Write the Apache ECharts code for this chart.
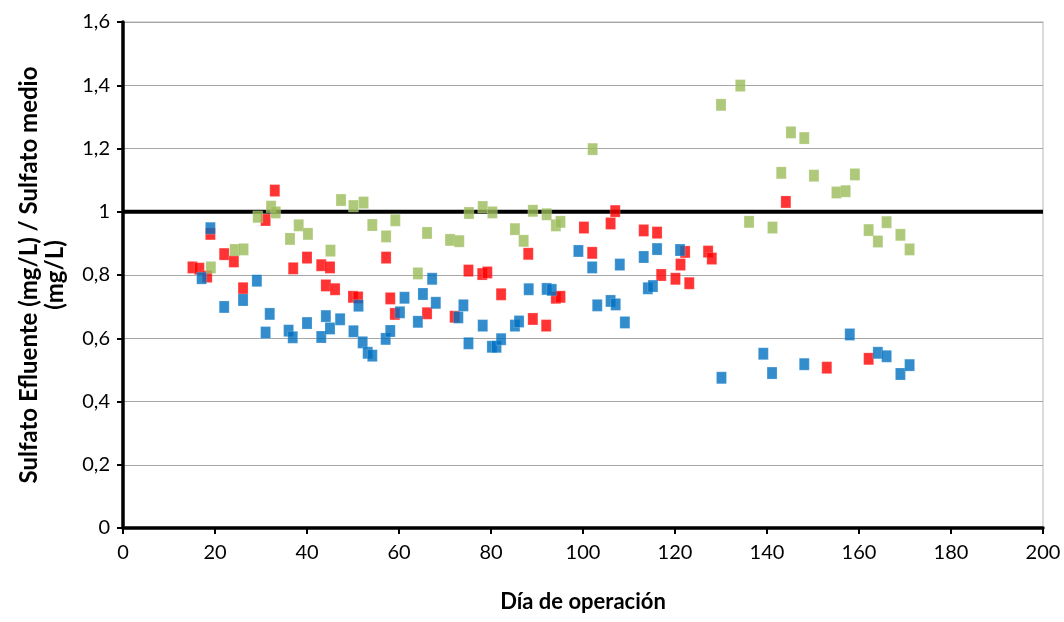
<!DOCTYPE html>
<html>
<head>
<meta charset="utf-8">
<script src="https://cdn.jsdelivr.net/npm/echarts@6/dist/echarts.min.js"></script>
<style>
  html, body { margin: 0; padding: 0; background: #fff; }
  #chart { width: 1064px; height: 622px; }
</style>
</head>
<body>
<div id="chart"></div>
<script>
// Ratio of effluent sulphate to mean sulphate, by day of operation
const xTicks = [0, 20, 40, 60, 80, 100, 120, 140, 160, 180, 200];
const yTicks = [0, 0.2, 0.4, 0.6, 0.8, 1, 1.2, 1.4, 1.6];

// Reference ratio = 1
const refLine = [[0, 1], [200, 1]];

// Red series [day, ratio]
const redSeries = [
  [15.1, 0.824], [16.6, 0.82], [18.3, 0.795], [19, 0.93], [22, 0.866], [24.1, 0.843],
  [26.1, 0.758], [31, 0.974], [33, 1.067], [37, 0.821], [40, 0.855], [43.1, 0.831],
  [44.1, 0.767], [45, 0.824], [46.1, 0.755], [50, 0.731], [51.1, 0.729], [57.2, 0.855],
  [58.1, 0.726], [59.1, 0.677], [66.1, 0.679], [72.1, 0.668], [75.1, 0.814], [78.1, 0.803],
  [79.2, 0.808], [82.2, 0.739], [88.1, 0.867], [89.1, 0.661], [92, 0.64], [94.1, 0.728],
  [95.1, 0.731], [100.2, 0.95], [102, 0.87], [106, 0.963], [107, 1.002], [113.2, 0.941],
  [116.1, 0.934], [117, 0.8], [120.1, 0.788], [121.2, 0.833], [122.2, 0.873], [123.1, 0.774],
  [127.2, 0.874], [128, 0.852], [144.1, 1.031], [153, 0.507], [162.1, 0.535]
];

// Green series [day, ratio]
const greenSeries = [
  [19.1, 0.824], [24.3, 0.879], [26.2, 0.881], [29.3, 0.984], [32.2, 1.016], [33.2, 0.998],
  [36.3, 0.914], [38.2, 0.957], [40.2, 0.93], [45.1, 0.877], [47.4, 1.037], [50.1, 1.018],
  [52.3, 1.029], [54.2, 0.958], [57.2, 0.922], [59.2, 0.973], [64.1, 0.805], [66.1, 0.933],
  [71.1, 0.911], [73.1, 0.907], [75.2, 0.996], [78.2, 1.015], [80.3, 0.998], [85.2, 0.945],
  [87.1, 0.908], [89.1, 1.003], [92.1, 0.992], [94.1, 0.957], [95.1, 0.968], [102.1, 1.198],
  [130, 1.338], [134.2, 1.399], [136.1, 0.968], [141.2, 0.95], [143.1, 1.123], [145.2, 1.251],
  [148.1, 1.233], [150.2, 1.114], [155.1, 1.061], [157.1, 1.065], [159.1, 1.118], [162.1, 0.942],
  [164.1, 0.906], [166, 0.967], [169, 0.927], [171, 0.881]
];

// Blue series [day, ratio]
const blueSeries = [
  [17.1, 0.79], [19, 0.948], [22, 0.699], [26.1, 0.721], [29.1, 0.782], [31, 0.618],
  [31.9, 0.677], [36, 0.624], [36.9, 0.603], [40, 0.648], [43.1, 0.604], [44.1, 0.67],
  [45, 0.631], [47.2, 0.66], [50.1, 0.622], [51.2, 0.703], [52.1, 0.587], [53.2, 0.554],
  [54.2, 0.545], [57.1, 0.598], [58.1, 0.623], [60.2, 0.682], [61.2, 0.728], [64.1, 0.652],
  [65.2, 0.74], [67.2, 0.788], [68, 0.712], [72.9, 0.666], [74, 0.704], [75.1, 0.584],
  [78.2, 0.64], [80.2, 0.573], [81.2, 0.573], [82.2, 0.597], [85.2, 0.64], [86.1, 0.653],
  [88.2, 0.755], [92.1, 0.756], [93.2, 0.753], [99, 0.876], [102, 0.824], [103.1, 0.704],
  [106, 0.718], [107.1, 0.707], [108, 0.833], [109.1, 0.65], [113.2, 0.857], [114.1, 0.758],
  [115.2, 0.765], [116.1, 0.882], [121.1, 0.879], [130.1, 0.475], [139.2, 0.551], [141.1, 0.49],
  [148.1, 0.518], [158, 0.612], [164.1, 0.554], [166, 0.543], [169, 0.487], [171, 0.515]
];

const FONT = "Lato, 'Open Sans', sans-serif";
const chart = echarts.init(document.getElementById('chart'), null, { renderer: 'canvas' });

const markerSeries = (name, data, color) => ({
  name, type: 'scatter', data,
  symbol: 'rect', symbolSize: [10, 12],
  itemStyle: { color, borderColor: 'rgba(255,255,255,0.5)', borderWidth: 0.5 },
  silent: true, z: 3
});

chart.setOption({
  animation: false,
  backgroundColor: '#ffffff',
  // light plot-area frame; the black axes are drawn over its left and bottom edges
  grid: { left: 123, right: 21, top: 22, bottom: 94,
          show: true, borderColor: '#d0d0d0', borderWidth: 1.5 },
  xAxis: {
    type: 'value', min: xTicks[0], max: xTicks[xTicks.length - 1], interval: 20,
    name: 'Día de operación', nameLocation: 'middle', nameGap: 63,
    nameTextStyle: { fontFamily: FONT, fontWeight: 'bold', fontSize: 22, color: '#000' },
    axisLine: { show: true, onZero: false, lineStyle: { color: '#000', width: 3.5 } },
    axisTick: { show: true, length: 6, lineStyle: { color: '#000', width: 2 } },
    axisLabel: { fontFamily: FONT, fontSize: 20, color: '#000', margin: 15 },
    splitLine: { show: false }
  },
  yAxis: {
    type: 'value', min: yTicks[0], max: yTicks[yTicks.length - 1], interval: 0.2,
    name: 'Sulfato Efluente (mg/L) / Sulfato medio\n(mg/L)',
    nameLocation: 'middle', nameGap: 55, nameRotate: 90,
    nameTextStyle: { fontFamily: FONT, fontWeight: 'bold', fontSize: 24, color: '#000', lineHeight: 26, align: 'center' },
    axisLine: { show: true, onZero: false, lineStyle: { color: '#000', width: 3.5 } },
    axisTick: { show: true, length: 6, lineStyle: { color: '#000', width: 2 } },
    axisLabel: {
      fontFamily: FONT, fontSize: 20, color: '#000', margin: 13,
      formatter: v => String(Math.round(v * 10) / 10).replace('.', ',')
    },
    splitLine: { show: true, lineStyle: { color: '#a6a6a6', width: 1 } }
  },
  series: [
    {
      name: 'Referencia', type: 'line', data: refLine,
      symbol: 'none', lineStyle: { color: '#000', width: 4 }, silent: true, z: 2
    },
    markerSeries('Serie roja', redSeries, '#ff0000'),
    markerSeries('Serie verde', greenSeries, '#9bbb59'),
    markerSeries('Serie azul', blueSeries, '#0070c0')
  ]
});
</script>
</body>
</html>
